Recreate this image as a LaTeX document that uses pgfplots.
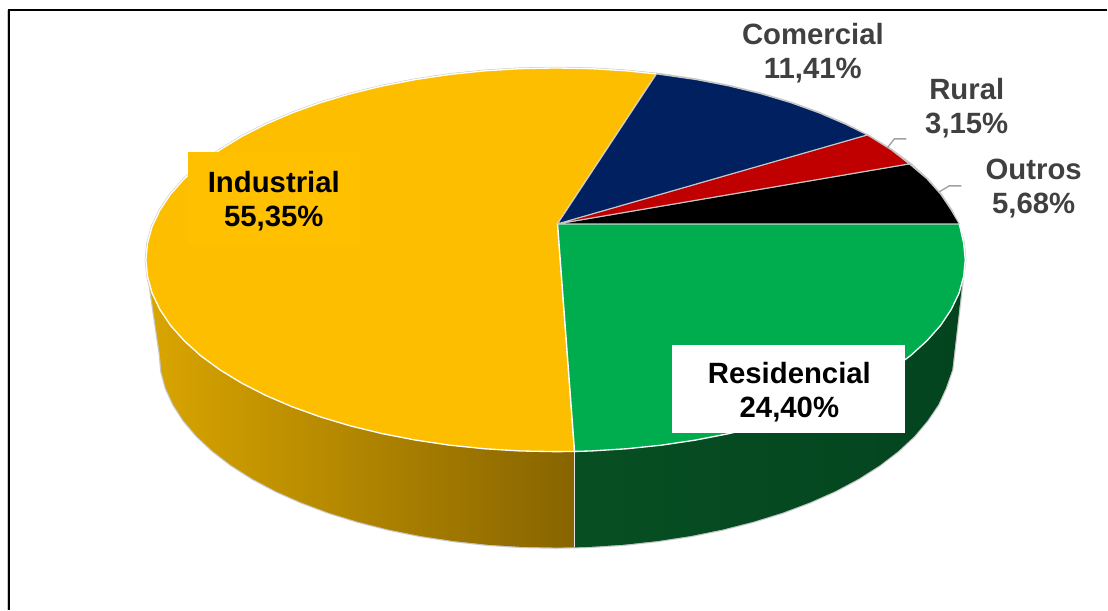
\documentclass[border=0pt]{standalone}
\usepackage{pgfplots}
\pgfplotsset{compat=1.18}
\usepackage{fontspec}
\setmainfont{Liberation Sans}

\definecolor{topYellow}{HTML}{FDBE00}
\definecolor{boxYellow}{HTML}{FFC000}
\definecolor{topGreen}{HTML}{00AD4E}
\definecolor{topNavy}{HTML}{002060}
\definecolor{topRed}{HTML}{C00000}
\definecolor{rimGray}{HTML}{C8C8C8}
\definecolor{labelGray}{HTML}{404040}
\definecolor{leaderGray}{HTML}{A0A0A0}
\definecolor{wallYellowA}{HTML}{D9A500}
\definecolor{wallYellowB}{HTML}{B58900}
\definecolor{wallYellowC}{HTML}{876400}
\definecolor{wallGreenA}{HTML}{074F23}
\definecolor{wallGreenB}{HTML}{03441F}

\begin{document}
\begin{tikzpicture}
\begin{axis}[
  x=0.75pt, y=0.75pt,
  xmin=0, xmax=1108, ymin=0, ymax=610,
  y dir=reverse,
  axis lines=none,
  clip=false,
  scale only axis,
]
  % keep the full drawing area in the page
  \path (axis cs:0,0) (axis cs:1108,610);

  % light outline under the whole solid
  \addplot[draw=rimGray, line width=1.8pt, fill=rimGray] coordinates {
    (966,260) (964.4,243.3) (959.8,226.7) (952,210.3) (941.3,194.3) (927.6,178.9) (911.1,164)
    (891.9,149.9) (870.1,136.6) (845.9,124.2) (819.5,112.9) (791.2,102.7) (761,93.7) (729.3,86)
    (696.2,79.6) (662.1,74.5) (627.2,70.9) (591.8,68.7) (556,68) (520.2,68.7) (484.8,70.9)
    (449.9,74.5) (415.8,79.6) (382.7,86) (351,93.7) (320.8,102.7) (292.5,112.9) (266.1,124.2)
    (241.9,136.6) (220.1,149.9) (200.9,164) (184.4,178.9) (170.7,194.3) (160,210.3) (152.2,226.7)
    (147.6,243.3) (146,260) (147.6,276.7) (150,287)
    (160,355) (161.5,371.8) (166,388.5) (173.5,404.9) (183.9,421) (197.1,436.6) (213.1,451.5)
    (231.6,465.7) (252.7,479.1) (276,491.5) (301.5,502.8) (328.9,513.1) (358,522.1) (388.6,529.9)
    (420.6,536.4) (453.5,541.4) (487.3,545.1) (521.5,547.3) (556,548) (590.5,547.3) (624.7,545.1)
    (658.5,541.4) (691.4,536.4) (723.4,529.9) (754,522.1) (783.1,513.1) (810.5,502.8) (836,491.5)
    (859.3,479.1) (880.4,465.7) (898.9,451.5) (914.9,436.6) (928.1,421) (939,404.9) (946.5,388.5)
    (953,370) (963,283.4)
  } -- cycle;

  % side wall of the Industrial slice
  \addplot[draw=none, left color=wallYellowA, middle color=wallYellowB, right color=wallYellowC] coordinates {
    (150,287) (152.2,293.3) (160,309.7) (170.7,325.7) (184.4,341.1) (200.9,356) (220.1,370.1)
    (241.9,383.4) (266.1,395.8) (292.5,407.1) (320.8,417.3) (351,426.3) (382.7,434) (415.8,440.4)
    (449.9,445.5) (484.8,449.1) (520.2,451.3) (556,452) (575,451.8)
    (575,547.8) (556,548) (521.5,547.3) (487.3,545.1) (453.5,541.4) (420.6,536.4) (388.6,529.9)
    (358,522.1) (328.9,513.1) (301.5,502.8) (276,491.5) (252.7,479.1) (231.6,465.7) (213.1,451.5)
    (197.1,436.6) (183.9,421) (173.5,404.9) (166,388.5) (161.5,371.8) (160,355)
  } -- cycle;

  % side wall of the Residencial slice
  \addplot[draw=none, left color=wallGreenA, middle color=wallGreenB, right color=wallGreenB] coordinates {
    (575,451.8) (591.8,451.3) (627.2,449.1) (662.1,445.5) (696.2,440.4) (729.3,434) (761,426.3)
    (791.2,417.3) (819.5,407.1) (845.9,395.8) (870.1,383.4) (891.9,370.1) (911.1,356) (927.6,341.1)
    (941.3,325.7) (952,309.7) (959.8,293.3) (963,283.4)
    (953,370) (946.5,388.5) (939,404.9) (928.1,421) (914.9,436.6) (898.9,451.5)
    (880.4,465.7) (859.3,479.1) (836,491.5) (810.5,502.8) (783.1,513.1) (754,522.1) (723.4,529.9)
    (691.4,536.4) (658.5,541.4) (624.7,545.1) (590.5,547.3) (575,547.8)
  } -- cycle;
  \addplot[draw=white!90!black, line width=0.9pt] coordinates {(575,451.8) (575,547.8)};

  % top face: Industrial
  \addplot[fill=topYellow, draw=white, line width=1pt] coordinates {
    (558,224) (657,74) (627.2,70.9) (591.8,68.7) (556,68) (520.2,68.7) (484.8,70.9)
    (449.9,74.5) (415.8,79.6) (382.7,86) (351,93.7) (320.8,102.7) (292.5,112.9) (266.1,124.2)
    (241.9,136.6) (220.1,149.9) (200.9,164) (184.4,178.9) (170.7,194.3) (160,210.3) (152.2,226.7)
    (147.6,243.3) (146,260) (147.6,276.7) (152.2,293.3) (160,309.7) (170.7,325.7) (184.4,341.1)
    (200.9,356) (220.1,370.1) (241.9,383.4) (266.1,395.8) (292.5,407.1) (320.8,417.3) (351,426.3)
    (382.7,434) (415.8,440.4) (449.9,445.5) (484.8,449.1) (520.2,451.3) (556,452) (575,451.8)
  } -- cycle;
  % top face: Residencial
  \addplot[fill=topGreen, draw=white, line width=1pt] coordinates {
    (558,224) (575,451.8) (591.8,451.3) (627.2,449.1) (662.1,445.5) (696.2,440.4) (729.3,434)
    (761,426.3) (791.2,417.3) (819.5,407.1) (845.9,395.8) (870.1,383.4) (891.9,370.1) (911.1,356)
    (927.6,341.1) (941.3,325.7) (952,309.7) (959.8,293.3) (964.4,276.7) (966,260) (964.4,243.3)
    (960,224)
  } -- cycle;
  % top face: Outros
  \addplot[fill=black, draw=rimGray, line width=0.8pt] coordinates {
    (558,224) (960,224) (952,210.3) (941.3,194.3) (927.6,178.9) (910,164)
  } -- cycle;
  % top face: Rural
  \addplot[fill=topRed, draw=rimGray, line width=0.8pt] coordinates {
    (558,224) (910,164) (891.9,149.9) (868,135)
  } -- cycle;
  % top face: Comercial
  \addplot[fill=topNavy, draw=rimGray, line width=0.8pt] coordinates {
    (558,224) (868,135) (845.9,124.2) (819.5,112.9) (791.2,102.7) (761,93.7) (729.3,86)
    (696.2,79.6) (657,74)
  } -- cycle;

  % leader lines of the outside labels
  \addplot[draw=leaderGray, line width=1pt] coordinates {(888,148) (895,139) (907,139)};
  \addplot[draw=leaderGray, line width=1pt] coordinates {(940,192) (950,186) (962,186)};

  % frame lines with their soft edge
  \addplot[draw=rimGray, line width=0.75pt] coordinates {(8,610) (8,11) (1108,11)};
  \addplot[draw=black, line width=1.3pt] coordinates {(9.2,610) (9.2,9.8) (1108,9.8)};

  % label boxes
  \fill[boxYellow] (axis cs:188,152) rectangle (axis cs:360,245);
  \fill[white] (axis cs:673,345) rectangle (axis cs:906,433);

  % slice labels
  \tikzset{lbl/.style={align=center, inner sep=0pt, font=\fontsize{22}{25.5}\selectfont\bfseries}}
  \node[lbl, text=labelGray] at (axis cs:813.5,53) {Comercial\\11,41\%};
  \node[lbl, text=labelGray] at (axis cs:967.5,108) {Rural\\3,15\%};
  \node[lbl, text=labelGray] at (axis cs:1034.5,189) {Outros\\5,68\%};
  \node[lbl, text=black] at (axis cs:274,201) {Industrial\\55,35\%};
  \node[lbl, text=black] at (axis cs:790,392) {Residencial\\24,40\%};
\end{axis}
\end{tikzpicture}
\end{document}
